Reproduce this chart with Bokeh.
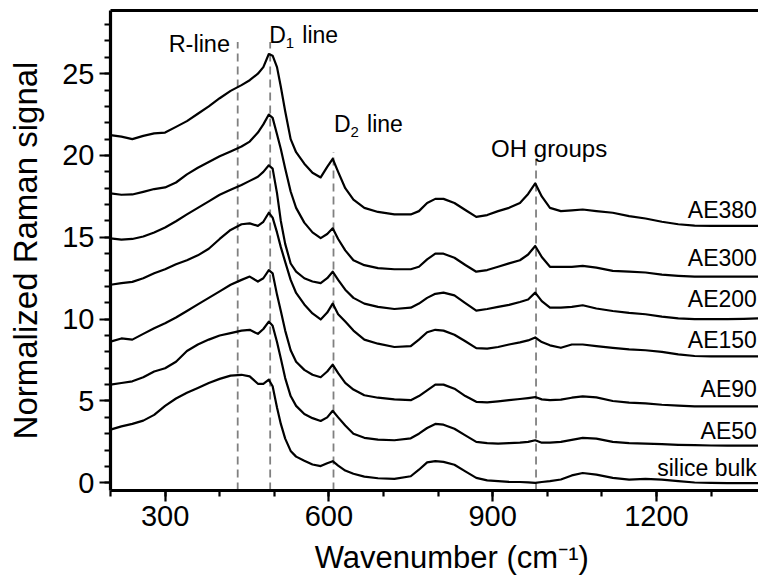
from bokeh.plotting import figure
from bokeh.models import LinearAxis, FixedTicker, Range1d
from bokeh.embed import file_html
from bokeh.resources import INLINE
from bokeh.core.properties import value

# Raman spectra (normalized, vertically offset), wavenumber in cm^-1
wavenumber = [200, 220, 240, 260, 280, 300, 320, 340, 360, 380, 400, 420, 440, 455,
              470, 480, 490, 497, 505, 512, 520, 530, 540, 555, 570, 585, 597, 607,
              617, 630, 645, 665, 690, 720, 750, 765, 780, 795, 810, 830, 850, 870,
              890, 910, 930, 950, 965, 978, 990, 1005, 1025, 1045, 1065, 1090, 1120,
              1150, 1180, 1210, 1240, 1270, 1300, 1330, 1360, 1387]

ae380 = [21.25, 21.15, 21.0, 21.2, 21.35, 21.4, 21.75, 22.1, 22.55, 23.0, 23.5, 23.95,
         24.3, 24.6, 25.0, 25.4, 26.2, 26.1, 25.4, 24.2, 22.7, 21.0, 20.2, 19.5, 18.95,
         18.66, 19.3, 19.8, 19.0, 18.0, 17.3, 16.8, 16.55, 16.4, 16.4, 16.6, 17.1, 17.35,
         17.35, 17.1, 16.67, 16.25, 16.36, 16.6, 16.8, 17.1, 17.65, 18.3, 17.5, 16.8,
         16.6, 16.65, 16.7, 16.6, 16.5, 16.3, 16.15, 15.95, 15.8, 15.72, 15.7, 15.7,
         15.7, 15.7]

ae300 = [17.68, 17.6, 17.62, 17.78, 17.95, 18.05, 18.35, 18.85, 19.25, 19.6, 19.95,
         20.25, 20.55, 20.85, 21.4, 21.9, 22.5, 22.3, 21.3, 20.4, 19.2, 17.8, 16.8, 15.9,
         15.3, 14.95, 15.2, 15.55, 14.9, 14.2, 13.6, 13.3, 13.12, 13.05, 13.05, 13.2,
         13.65, 14.0, 14.0, 13.75, 13.31, 12.9, 13.0, 13.2, 13.41, 13.6, 13.95, 14.47,
         13.8, 13.2, 13.2, 13.2, 13.25, 13.15, 12.95, 12.9, 12.85, 12.72, 12.65, 12.6,
         12.6, 12.6, 12.6, 12.6]

ae200 = [14.94, 14.86, 14.9, 15.05, 15.3, 15.6, 15.98, 16.4, 16.8, 17.2, 17.6, 17.9,
         18.2, 18.45, 18.7, 19.0, 19.4, 19.2, 17.7, 16.0, 14.6, 13.4, 12.9, 12.5, 12.3,
         12.2, 12.5, 12.9, 12.4, 11.8, 11.3, 10.95, 10.75, 10.62, 10.7, 10.95, 11.3,
         11.55, 11.62, 11.45, 10.98, 10.52, 10.62, 10.75, 10.87, 11.05, 11.2, 11.62,
         11.1, 10.7, 10.7, 10.75, 10.85, 10.65, 10.5, 10.38, 10.3, 10.15, 10.05, 10.0,
         10.0, 10.0, 10.02, 10.05]

ae150 = [12.1, 12.2, 12.28, 12.5, 12.8, 13.05, 13.35, 13.6, 13.9, 14.3, 14.9, 15.45,
         15.8, 15.85, 15.7, 15.95, 16.5, 16.2, 15.3, 14.4, 13.5, 12.4, 11.6, 10.9, 10.35,
         9.98, 10.4, 10.95, 10.3, 9.85, 9.3, 8.75, 8.5, 8.3, 8.35, 8.75, 9.2, 9.35, 9.3,
         9.05, 8.65, 8.23, 8.2, 8.3, 8.45, 8.58, 8.7, 8.88, 8.6, 8.4, 8.25, 8.45, 8.45,
         8.35, 8.25, 8.15, 8.1, 8.0, 7.85, 7.75, 7.72, 7.72, 7.72, 7.72]

ae90 = [8.63, 8.82, 8.75, 9.1, 9.45, 9.75, 10.1, 10.5, 10.9, 11.3, 11.7, 12.1, 12.4,
        12.6, 12.3, 12.5, 13.0, 12.8, 11.5, 10.5, 9.3, 8.1, 7.4, 6.9, 6.6, 6.45, 6.8,
        7.22, 6.7, 6.1, 5.7, 5.35, 5.2, 5.1, 5.05, 5.3, 5.65, 6.0, 6.0, 5.75, 5.3, 4.95,
        4.92, 4.98, 5.05, 5.12, 5.18, 5.24, 5.1, 5.05, 5.08, 5.2, 5.28, 5.22, 5.0, 4.9,
        4.85, 4.77, 4.72, 4.67, 4.67, 4.67, 4.67, 4.67]

ae50 = [6.0, 6.1, 6.2, 6.45, 6.8, 7.0, 7.4, 8.05, 8.45, 8.75, 9.0, 9.15, 9.3, 9.35,
        9.1, 9.4, 9.85, 9.6, 8.6, 7.6, 6.4, 5.3, 4.7, 4.2, 3.95, 3.78, 4.0, 4.4, 4.0,
        3.5, 3.0, 2.75, 2.64, 2.6, 2.72, 3.0, 3.35, 3.6, 3.55, 3.3, 2.9, 2.5, 2.42, 2.4,
        2.42, 2.45, 2.5, 2.6, 2.45, 2.45, 2.5, 2.62, 2.75, 2.7, 2.5, 2.42, 2.4, 2.36,
        2.32, 2.3, 2.28, 2.27, 2.27, 2.27]

silice_bulk = [3.25, 3.45, 3.6, 3.8, 4.15, 4.7, 5.15, 5.5, 5.8, 6.1, 6.35, 6.55, 6.6,
               6.5, 6.05, 6.05, 6.3, 5.9, 4.6, 3.6, 2.7, 1.95, 1.6, 1.35, 1.12, 1.02,
               1.2, 1.32, 1.05, 0.75, 0.55, 0.38, 0.28, 0.24, 0.4, 0.8, 1.25, 1.32, 1.28,
               1.1, 0.7, 0.3, 0.15, 0.1, 0.06, 0.05, 0.03, 0.0, 0.05, 0.1, 0.2, 0.45, 0.6,
               0.5, 0.3, 0.2, 0.24, 0.2, 0.1, 0.02, 0.0, -0.02, -0.02, -0.02]

series_names = ["AE380", "AE300", "AE200", "AE150", "AE90", "AE50", "silice bulk"]
series_values = [ae380, ae300, ae200, ae150, ae90, ae50, silice_bulk]

# Band markers (dashed guides)
band_positions = [433, 492.5, 608.5, 979.5]
band_tops = [26.93, 26.93, 20.22, 19.76]

x_ticks = [300, 600, 900, 1200]
y_ticks = [0, 5, 10, 15, 20, 25]

FONT = "Liberation Sans"
X_MIN, X_MAX = 200, 1387
Y_MIN, Y_MAX = -0.47, 28.86

p = figure(width=758, height=577, output_backend="svg", toolbar_location=None,
           x_range=Range1d(X_MIN, X_MAX), y_range=Range1d(Y_MIN, Y_MAX),
           min_border_left=110, min_border_right=0, min_border_top=10,
           min_border_bottom=86)
p.grid.visible = False
p.outline_line_color = None
p.background_fill_color = "white"
p.border_fill_color = "white"

# dashed band guides
p.segment(x0=band_positions, x1=band_positions, y0=[Y_MIN] * 4, y1=band_tops,
          line_color="#808080", line_width=1.8, line_dash="8 5")

# spectra
for ys in series_values:
    p.line(wavenumber, ys, line_color="black", line_width=2.2, line_join="round")

# sample names, right-aligned at the end of each trace
name_y = [16.67, 13.74, 11.24, 8.74, 5.75, 3.15, 0.93]
p.text(x=[1384] * len(series_names), y=name_y, text=series_names,
       text_font=value(FONT), text_font_size="23px", text_baseline="middle",
       text_align="right", text_color="black")

# band annotations
p.text(x=[362.7], y=[26.83], text=["R-line"], text_font=value(FONT),
       text_font_size="23.5px", text_align="center", text_baseline="alphabetic")
p.text(x=[1003.5], y=[20.43], text=["OH groups"], text_font=value(FONT),
       text_font_size="24px", text_align="center", text_baseline="alphabetic")
for bx, by, sub in [(491, 27.34, "1"), (609.5, 21.95, "2")]:
    p.text(x=[bx], y=[by], text=["D"], text_font=value(FONT), text_font_size="23px",
           text_align="left", text_baseline="alphabetic")
    p.text(x=[bx], y=[by], text=[sub], text_font=value(FONT), text_font_size="15px",
           text_align="left", text_baseline="alphabetic", x_offset=16.5, y_offset=8)
    p.text(x=[bx], y=[by], text=["line"], text_font=value(FONT), text_font_size="23px",
           text_align="left", text_baseline="alphabetic", x_offset=33)

def style_axis(ax):
    ax.axis_line_width = 3.2
    ax.axis_line_color = "black"
    ax.major_tick_line_width = 2.2
    ax.minor_tick_line_width = 2.2
    ax.major_tick_line_color = "black"
    ax.minor_tick_line_color = "black"
    ax.major_tick_in = 0
    ax.minor_tick_in = 0
    ax.major_tick_out = 11
    ax.minor_tick_out = 6
    ax.major_label_text_font = FONT
    ax.major_label_text_font_size = "29px"
    ax.major_label_text_color = "black"
    ax.axis_label_text_font = FONT
    ax.axis_label_text_font_style = "normal"
    ax.axis_label_text_color = "black"

xa = p.xaxis[0]
style_axis(xa)
xa.ticker = FixedTicker(ticks=x_ticks, minor_ticks=list(range(200, 1400, 100)))
xa.major_label_standoff = 4
# leading no-break spaces nudge the centred title to the right
xa.axis_label = "\u00a0" * 4 + "Wavenumber (cm\u207b\u00b9)"
xa.axis_label_standoff = 11
xa.axis_label_text_font_size = "31px"

ya = p.yaxis[0]
style_axis(ya)
ya.ticker = FixedTicker(ticks=y_ticks, minor_ticks=list(range(0, 29)))
ya.major_label_standoff = 5
ya.axis_label = "Normalized Raman signal"
ya.axis_label_standoff = 15
ya.axis_label_text_font_size = "33px"

top = LinearAxis(ticker=FixedTicker(ticks=[]), axis_line_width=3.2,
                 axis_line_color="black",
                 major_tick_line_color=None, minor_tick_line_color=None,
                 major_label_text_font_size="0px")
p.add_layout(top, "above")

open("out.html", "w").write(file_html(p, INLINE))
